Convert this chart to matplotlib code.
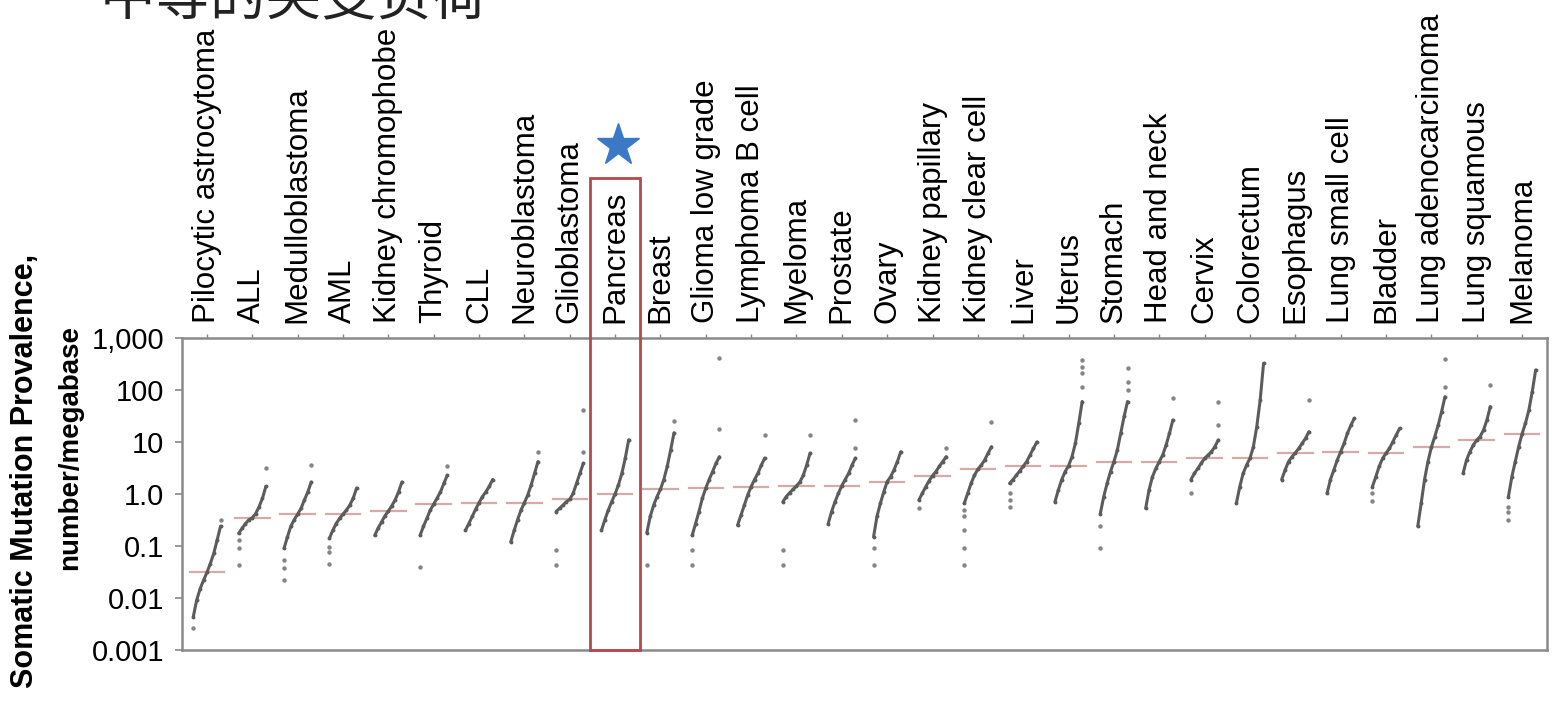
import numpy as np
import matplotlib.pyplot as plt
import matplotlib.transforms as mtransforms
from matplotlib.patches import Rectangle

plt.rcParams['font.family'] = ['Liberation Sans', 'DejaVu Sans']

# 各癌种体细胞突变率（每百万碱基），按中位数从低到高排列
cancer_types = ['Pilocytic astrocytoma', 'ALL', 'Medulloblastoma', 'AML',
                'Kidney chromophobe', 'Thyroid', 'CLL', 'Neuroblastoma',
                'Glioblastoma', 'Pancreas', 'Breast', 'Glioma low grade',
                'Lymphoma B cell', 'Myeloma', 'Prostate', 'Ovary',
                'Kidney papillary', 'Kidney clear cell', 'Liver', 'Uterus',
                'Stomach', 'Head and neck', 'Cervix', 'Colorectum',
                'Esophagus', 'Lung small cell', 'Bladder',
                'Lung adenocarcinoma', 'Lung squamous', 'Melanoma']

medians = [0.031, 0.35, 0.41, 0.41, 0.47, 0.64, 0.68, 0.68, 0.79, 1.0,
           1.23, 1.3, 1.38, 1.43, 1.45, 1.73, 2.25, 3.0, 3.4, 3.5,
           4.2, 4.2, 4.85, 4.85, 6.2, 6.5, 6.1, 7.9, 10.9, 14.3]

# 排序后的样本突变率（主体曲线）
curves = [
    [0.0044, 0.0092, 0.015, 0.022, 0.031, 0.046, 0.072, 0.13, 0.24],
    [0.175, 0.22, 0.27, 0.32, 0.35, 0.42, 0.57, 0.83, 1.4],
    [0.090, 0.15, 0.24, 0.32, 0.41, 0.53, 0.77, 1.1, 1.7],
    [0.14, 0.20, 0.27, 0.34, 0.41, 0.49, 0.61, 0.83, 1.3],
    [0.16, 0.22, 0.29, 0.38, 0.47, 0.59, 0.77, 1.1, 1.7],
    [0.16, 0.24, 0.34, 0.49, 0.64, 0.83, 1.1, 1.6, 2.3],
    [0.20, 0.27, 0.37, 0.51, 0.68, 0.89, 1.1, 1.4, 1.9],
    [0.12, 0.20, 0.32, 0.49, 0.68, 0.96, 1.5, 2.5, 4.2],
    [0.46, 0.53, 0.61, 0.71, 0.79, 1.03, 1.6, 2.5, 3.9],
    [0.20, 0.32, 0.49, 0.71, 1.0, 1.5, 2.5, 4.9, 11],
    [0.18, 0.37, 0.61, 0.89, 1.23, 1.9, 3.4, 7.0, 15],
    [0.16, 0.27, 0.46, 0.83, 1.3, 1.9, 2.7, 3.9, 5.2],
    [0.25, 0.39, 0.61, 0.96, 1.38, 1.9, 2.5, 3.6, 4.9],
    [0.71, 0.89, 1.06, 1.23, 1.43, 1.7, 2.3, 3.6, 6.1],
    [0.27, 0.46, 0.71, 1.03, 1.45, 1.9, 2.5, 3.6, 4.9],
    [0.15, 0.37, 0.66, 1.1, 1.73, 2.15, 2.9, 4.2, 6.5],
    [0.77, 1.03, 1.38, 1.8, 2.25, 2.7, 3.4, 4.2, 5.2],
    [0.66, 1.03, 1.6, 2.3, 3.0, 3.6, 4.5, 6.1, 8.1],
    [1.6, 1.9, 2.3, 2.8, 3.4, 4.2, 5.6, 7.5, 10],
    [0.71, 1.2, 1.9, 2.7, 3.5, 5.2, 9.4, 23, 60],
    [0.42, 0.89, 1.6, 2.7, 4.2, 7.0, 14.7, 31, 60],
    [0.53, 1.2, 2.15, 3.1, 4.2, 5.6, 8.7, 14.7, 26.5],
    [1.9, 2.5, 3.1, 3.9, 4.85, 5.6, 6.5, 8.1, 10.9],
    [0.66, 1.38, 2.5, 3.6, 4.85, 8.1, 19.7, 64, 326],
    [1.9, 2.9, 4.2, 5.2, 6.2, 7.5, 9.4, 11.8, 15.8],
    [1.03, 1.9, 2.9, 4.5, 6.5, 9.4, 14.7, 21, 28.5],
    [1.38, 2.15, 3.4, 4.85, 6.1, 7.5, 10.1, 13.6, 18.3],
    [0.24, 0.66, 1.9, 4.2, 7.9, 12.7, 21, 38, 74],
    [2.5, 4.5, 6.5, 8.7, 10.9, 12.7, 17, 26.5, 48],
    [0.89, 2.15, 4.2, 8.1, 14.3, 23, 41, 93, 243],
]

# 两端离散的样本点
low_outliers = [
    [0.0026], [0.13, 0.09, 0.043], [0.054, 0.037, 0.022], [0.097, 0.078, 0.046],
    [], [0.040], [], [], [0.084, 0.043], [], [0.043], [0.084, 0.043], [],
    [0.084, 0.043], [], [0.09, 0.043], [0.53], [0.49, 0.37, 0.20, 0.090, 0.043],
    [1.03, 0.77, 0.57], [], [0.24, 0.090], [], [1.03], [], [], [], [1.03, 0.74],
    [], [], [0.57, 0.46, 0.32],
]
high_outliers = [
    [0.32], [3.1], [3.6], [], [], [3.4], [], [6.5], [6.5, 41], [], [25],
    [17.5, 410], [13.6], [13.6], [7.6, 26], [], [7.6], [24.6], [],
    [116, 209, 281, 378], [100, 145, 261], [69], [21, 60], [], [64], [], [],
    [116, 390], [125], [],
]

y_ticks = [0.001, 0.01, 0.1, 1, 10, 100, 1000]
y_ticklabels = ['0.001', '0.01', '0.1', '1.0', '10', '100', '1,000']

W, H = 1552, 716
fig = plt.figure(figsize=(W / 100, H / 100), dpi=100)
ax = fig.add_axes([182 / W, 66 / H, 1365 / W, 312 / H])

dot_color = '#5c5c5c'
spread = 0.6
for i, vals in enumerate(curves):
    xs = i - spread / 2 + spread * np.arange(len(vals)) / (len(vals) - 1)
    ax.plot(xs, vals, '-', color=dot_color, lw=2.2, solid_capstyle='round')
    ax.plot(xs, vals, 'o', color=dot_color, ms=2.8, mew=0)
    if low_outliers[i]:
        ax.plot([i - spread / 2] * len(low_outliers[i]), low_outliers[i], 'o',
                color=dot_color, ms=3.2, mew=0, alpha=0.75)
    if high_outliers[i]:
        ax.plot([i + spread / 2] * len(high_outliers[i]), high_outliers[i], 'o',
                color=dot_color, ms=3.2, mew=0, alpha=0.75)
    ax.plot([i - 0.38, i + 0.38], [medians[i]] * 2, color='#d7aaaa',
            lw=1.6, zorder=1)

ax.set_yscale('log')
ax.set_ylim(1e-3, 1e3)
ax.set_xlim(-0.55, len(cancer_types) - 0.45)
ax.set_yticks(y_ticks)
ax.set_yticklabels(y_ticklabels, fontsize=21)
ax.yaxis.set_minor_locator(plt.NullLocator())

ax.xaxis.tick_top()
ax.set_xticks(range(len(cancer_types)))
ax.set_xticklabels(cancer_types, rotation=90, fontsize=22.5, ha='center', va='bottom')

for s in ax.spines.values():
    s.set_color('#8a8a8a')
    s.set_linewidth(1.8)
ax.tick_params(axis='y', length=5, width=1.2, color='#8a8a8a', pad=8)
ax.tick_params(axis='x', length=3, width=1.0, color='#8a8a8a', pad=8)

# 胰腺癌高亮框和星标
trans = mtransforms.blended_transform_factory(ax.transData, ax.transAxes)
pancreas = cancer_types.index('Pancreas')
ax.add_patch(Rectangle((pancreas - 0.55, 0), 1.1, 1.513, transform=trans,
                       fill=False, ec='#b9474d', lw=2.0, clip_on=False, zorder=5))
ax.plot([pancreas + 0.06], [1.62], marker='*', ms=32, color='#3b78c6',
        mec='#3b78c6', transform=trans, clip_on=False)

fig.text(25 / W, 1 - 471 / H, 'Somatic Mutation Provalence,', rotation=90,
         fontsize=22, fontweight='bold', ha='center', va='center')
fig.text(70 / W, 1 - 447 / H, 'number/megabase', rotation=90,
         fontsize=20, fontweight='bold', ha='center', va='center')

fig.text(100 / W, 1 - 14 / H, '中等的突变负荷', fontsize=40, color='#222222',
         family=['Noto Sans CJK SC', 'DejaVu Sans'], ha='left', va='baseline')

fig.savefig('out.png', dpi=100, facecolor='white')
